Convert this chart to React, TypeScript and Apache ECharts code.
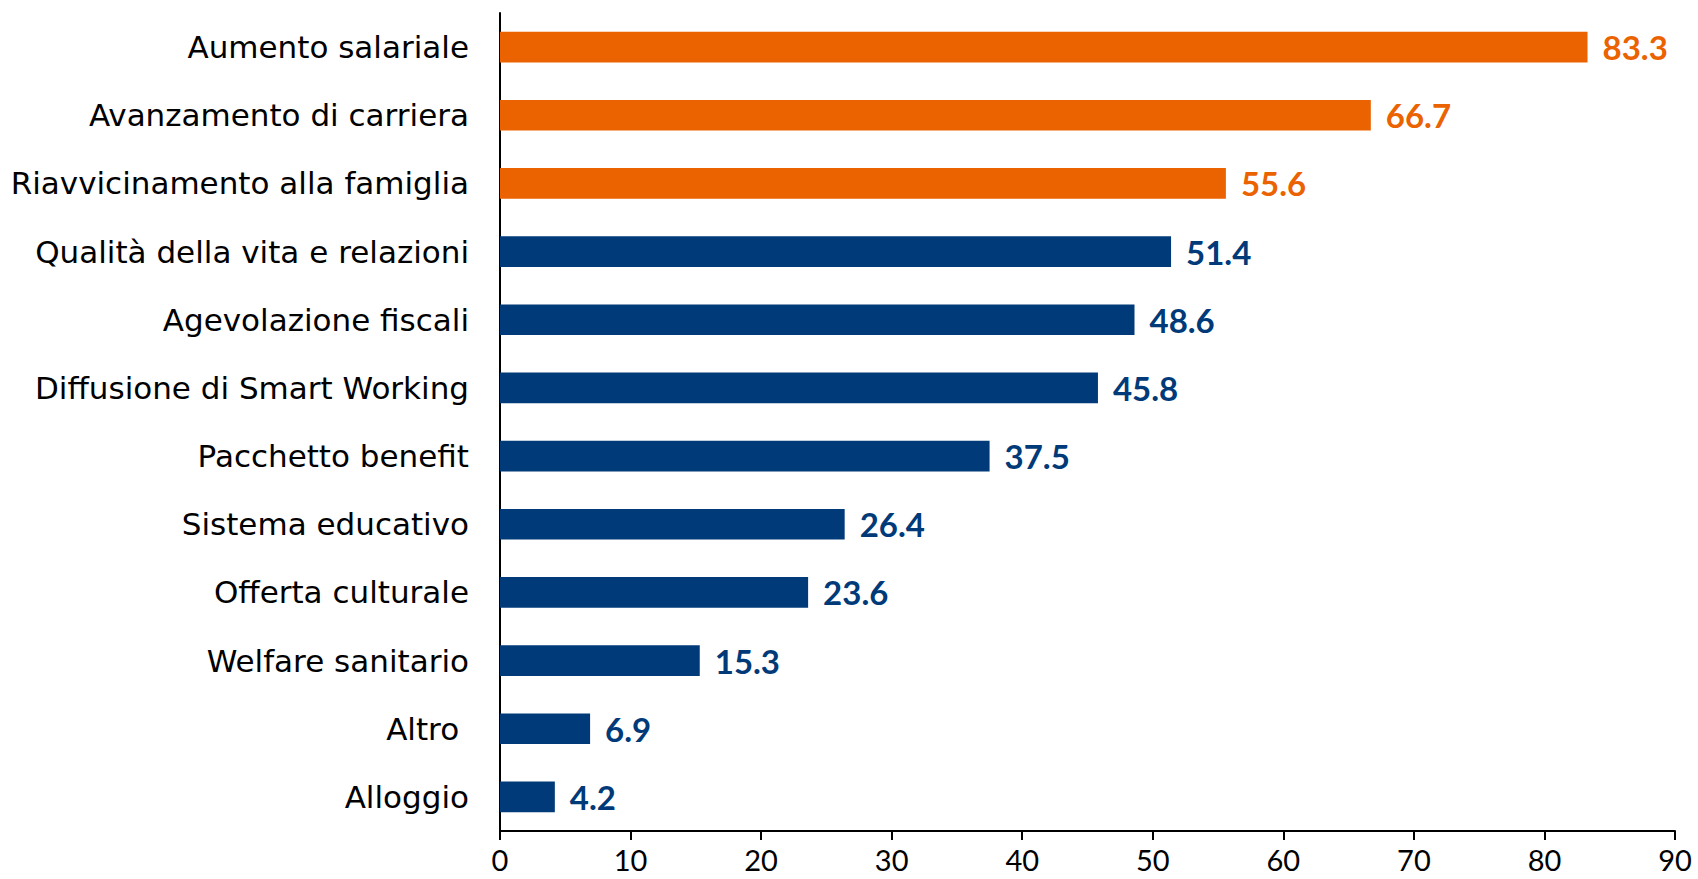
import React, { useEffect, useRef } from "react";
import * as echarts from "echarts";

const categories = [
  "Aumento salariale",
  "Avanzamento di carriera",
  "Riavvicinamento alla famiglia",
  "Qualità della vita e relazioni",
  "Agevolazione fiscali",
  "Diffusione di Smart Working",
  "Pacchetto benefit",
  "Sistema educativo",
  "Offerta culturale",
  "Welfare sanitario",
  "Altro ",
  "Alloggio",
];
const values = [83.3, 66.7, 55.6, 51.4, 48.6, 45.8, 37.5, 26.4, 23.6, 15.3, 6.9, 4.2];
const highlighted = [true, true, true, false, false, false, false, false, false, false, false, false];

const ORANGE = "#EB6200";
const NAVY = "#003A78";

export default function App() {
  const ref = useRef<HTMLDivElement>(null);
  useEffect(() => {
    document.body.style.margin = "0";
    const chart = echarts.init(ref.current!, null, { renderer: "svg" });
    chart.setOption({
      animation: false,
      grid: { left: 500, right: 23, top: 13, bottom: 48, containLabel: false },
      xAxis: {
        type: "value",
        min: 0,
        max: 90,
        interval: 10,
        axisLine: { show: true, lineStyle: { color: "#000", width: 2 } },
        axisTick: { show: true, length: 9, lineStyle: { color: "#000", width: 2 } },
        splitLine: { show: false },
        axisLabel: { color: "#000", fontSize: 29, fontFamily: "Lato, sans-serif", margin: 14 },
      },
      yAxis: {
        type: "category",
        inverse: true,
        data: categories,
        axisLine: { show: true, lineStyle: { color: "#000", width: 2 } },
        axisTick: { show: false },
        axisLabel: { color: "#000", fontSize: 31, fontFamily: "'DejaVu Sans', sans-serif", margin: 31 },
      },
      series: [
        {
          type: "bar",
          data: values.map((v, i) => ({
            value: v,
            itemStyle: { color: highlighted[i] ? ORANGE : NAVY },
            label: { color: highlighted[i] ? ORANGE : NAVY },
          })),
          barWidth: "45%",
          label: {
            show: true,
            position: "right",
            distance: 15,
            fontSize: 33,
            fontWeight: "bold",
            fontFamily: "Lato, sans-serif",
            formatter: (p: any) => p.value.toFixed(1),
          },
        },
      ],
    });
    return () => chart.dispose();
  }, []);
  return (
    <div
      ref={ref}
      style={{ position: "fixed", left: 0, top: 0, width: 1698, height: 879, background: "#fff" }}
    />
  );
}
